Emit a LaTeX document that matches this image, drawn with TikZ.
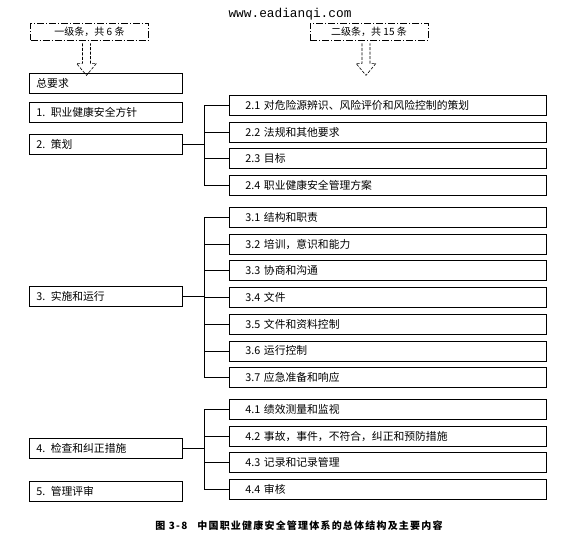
\documentclass[tikz,border=0pt]{standalone}
\usepackage{fontspec}
\setmainfont{Noto Sans CJK SC}
\newfontfamily\webfont{Liberation Mono}
\begin{document}
\begin{tikzpicture}[x=1pt,y=-1pt,line width=0.7pt,
  lbox/.style={draw,line width=0.8pt,anchor=north west,minimum height=20pt,
    inner xsep=7pt,inner ysep=0pt,text width=139pt,align=left,
    font=\fontsize{10.8}{12}\selectfont},
  rbox/.style={lbox,inner xsep=16pt,text width=285pt},
  headbox/.style={draw,dash pattern=on 7pt off 2pt on 1pt off 2pt,
    minimum width=118pt,minimum height=17pt,inner sep=0pt,
    font=\fontsize{10}{11}\selectfont},
  hollow/.style={dash pattern=on 3pt off 1.5pt,line width=0.6pt}]
\def\gap{26.7}
\useasboundingbox (0,0) rectangle (577,539);
\node (web) at (290,14) {\webfont\fontsize{12.8}{14}\selectfont www.eadianqi.com};
\node[headbox] (hd1) at (89.5,31.5) {一级条，共 6 条};
\node[headbox] (hd2) at (369,31.5) {二级条，共 15 条};
\foreach \n in {hd1,hd2}
  \draw[hollow] ([shift={(-7,3)}]\n.south) -- ++(0,20) -- ++(-6,0) -- ++(10,12)
    -- ++(10,-12) -- ++(-6,0) -- ++(0,-20);
% first level
\node[lbox] (l0) at (29,73) {总要求};
\node[lbox] (l1) at (29,102) {1. 职业健康安全方针};
\node[lbox] (l2) at (29,134) {2. 策划};
\node[lbox] (l3) at (29,285.5) {3. 实施和运行};
\node[lbox] (l4) at (29,438) {4. 检查和纠正措施};
\node[lbox] (l5) at (29,481) {5. 管理评审};
% second level
\foreach \t [count=\i] in {2.1 对危险源辨识、风险评价和风险控制的策划,2.2 法规和其他要求,
    2.3 目标,2.4 职业健康安全管理方案}
  \node[rbox] (r2\i) at (229,{95+\gap*(\i-1)}) {\t};
\foreach \t [count=\i] in {3.1 结构和职责,3.2 培训，意识和能力,3.3 协商和沟通,3.4 文件,
    3.5 文件和资料控制,3.6 运行控制,3.7 应急准备和响应}
  \node[rbox] (r3\i) at (229,{207+\gap*(\i-1)}) {\t};
\foreach \t [count=\i] in {4.1 绩效测量和监视,4.2 事故，事件，不符合，纠正和预防措施,
    4.3 记录和记录管理,4.4 审核}
  \node[rbox] (r4\i) at (229,{399+\gap*(\i-1)}) {\t};
% brackets
\coordinate (spine) at (204,0);
\foreach \j in {1,...,4}
  \draw (l2.east) -- (l2.east -| spine) |- (r2\j.west);
\foreach \j in {1,...,7}
  \draw (l3.east) -- (l3.east -| spine) |- (r3\j.west);
\foreach \j in {1,...,4}
  \draw (l4.east) -- (l4.east -| spine) |- (r4\j.west);
\node[font=\fontsize{10}{12}\selectfont\bfseries\addfontfeature{LetterSpace=12}] (cap) at (299,526)
  {图 3-8\quad 中国职业健康安全管理体系的总体结构及主要内容};
\end{tikzpicture}
\end{document}
